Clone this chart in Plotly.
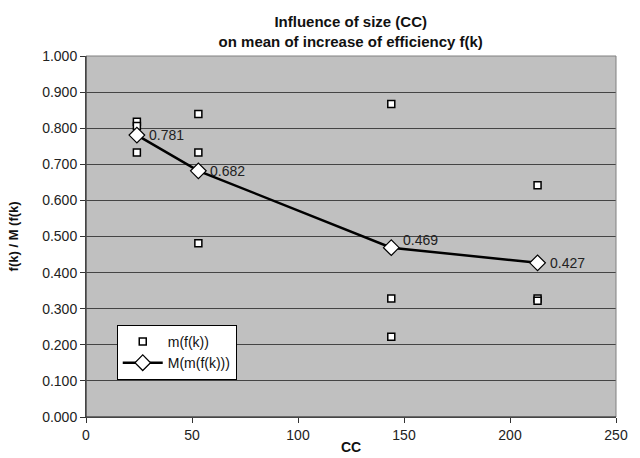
import plotly.graph_objects as go

# Data
cc_points = [24, 24, 24, 53, 53, 53, 144, 144, 144, 213, 213, 213]
m_values = [0.818, 0.806, 0.733, 0.839, 0.733, 0.481, 0.867, 0.328, 0.222, 0.642, 0.328, 0.322]
cc_mean = [24, 53, 144, 213]
mean_values = [0.781, 0.682, 0.469, 0.427]
mean_labels = ["0.781", "0.682", "0.469", "0.427"]
label_yshift = [0, 0, 8, 0]
x_ticks = [0, 50, 100, 150, 200, 250]
y_ticks = [round(i * 0.1, 1) for i in range(11)]
y_tick_labels = [f"{v:.3f}" for v in y_ticks]

FONT = "Liberation Sans, Arial, sans-serif"

fig = go.Figure()
fig.add_trace(go.Scatter(
    x=cc_points, y=m_values, mode="markers", name="m(f(k))",
    marker=dict(symbol="square", size=7, color="white",
                line=dict(color="black", width=1.5)),
))
fig.add_trace(go.Scatter(
    x=cc_mean, y=mean_values, mode="lines+markers", name="M(m(f(k)))",
    line=dict(color="black", width=2.5),
    marker=dict(symbol="diamond", size=12, color="white",
                line=dict(color="black", width=1.2)),
))

for x, y, t, ys in zip(cc_mean, mean_values, mean_labels, label_yshift):
    fig.add_annotation(x=x, y=y, text=t, showarrow=False, xanchor="left",
                       yanchor="middle", xshift=10, yshift=ys,
                       font=dict(family=FONT, size=14, color="#222222"))

# axis titles
fig.add_annotation(xref="paper", yref="paper", x=0.5, y=-0.083,
                   text="<b>CC</b>", showarrow=False, xanchor="center",
                   yanchor="middle", font=dict(family=FONT, size=14, color="#111111"))
fig.add_annotation(xref="paper", yref="paper", x=-0.136, y=0.5,
                   text="<b>f(k) / M (f(k)</b>", showarrow=False, textangle=-90,
                   xanchor="center", yanchor="middle",
                   font=dict(family=FONT, size=13, color="#111111"))

fig.update_layout(
    width=640, height=458,
    margin=dict(l=86, r=24, t=56, b=41),
    paper_bgcolor="white", plot_bgcolor="#C0C0C0",
    font=dict(family=FONT, size=13, color="#222222"),
    title=dict(
        text="<b>Influence of size (CC)<br>on mean of increase of efficiency f(k)</b>",
        x=0.548, xanchor="center", yref="container", y=0.94, yanchor="middle",
        font=dict(family=FONT, size=15, color="#111111"),
    ),
    showlegend=True,
    legend=dict(x=0.058, y=0.255, xanchor="left", yanchor="top",
                bgcolor="white", bordercolor="black", borderwidth=1,
                font=dict(family=FONT, size=14, color="#111111"),
                itemwidth=40, tracegroupgap=2),
    xaxis=dict(range=[0, 250], tickvals=x_ticks, showgrid=False,
               zeroline=False, showline=True, linecolor="#333333", linewidth=1,
               mirror=False, ticks="outside", ticklen=5, tickcolor="#333333",
               automargin=False,
               tickfont=dict(family=FONT, size=14, color="#222222")),
    yaxis=dict(range=[0, 1.0], tickvals=y_ticks, ticktext=y_tick_labels,
               showgrid=True, gridcolor="#444444", gridwidth=1,
               zeroline=False, showline=True, linecolor="#333333", linewidth=1,
               ticks="outside", ticklen=5, tickcolor="#333333",
               automargin=False,
               tickfont=dict(family=FONT, size=14, color="#222222")),
)

# plot area border
fig.add_shape(type="rect", xref="paper", yref="paper", x0=0, y0=0, x1=1, y1=1,
              line=dict(color="#808080", width=1), layer="above")
fig.add_shape(type="line", xref="paper", yref="paper", x0=0, y0=0, x1=0, y1=1,
              line=dict(color="#333333", width=1), layer="above")
fig.add_shape(type="line", xref="paper", yref="paper", x0=0, y0=0, x1=1, y1=0,
              line=dict(color="#333333", width=1), layer="above")

fig.write_html("out.html")
